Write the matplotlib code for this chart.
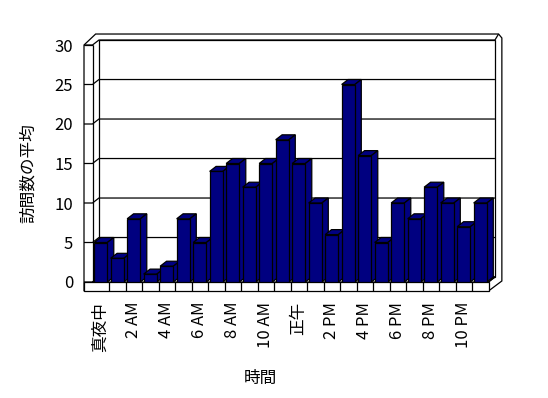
import matplotlib
matplotlib.use('Agg')
import matplotlib.pyplot as plt
from matplotlib.patches import Polygon

# Average visits per hour of the day
hours = list(range(24))
visits = [5, 3, 8, 1, 2, 8, 5, 14, 15, 12, 15, 18,
          15, 10, 6, 25, 16, 5, 10, 8, 12, 10, 7, 10]
tick_pos = list(range(0, 24, 2))
tick_labels = ['真夜中', '2 AM', '4 AM', '6 AM', '8 AM', '10 AM',
               '正午', '2 PM', '4 PM', '6 PM', '8 PM', '10 PM']
y_ticks = [0, 5, 10, 15, 20, 25, 30]

plt.rcParams['font.family'] = ['Noto Sans CJK JP', 'DejaVu Sans']
plt.rcParams['font.size'] = 12

NAVY = '#000080'
LW = 0.9

fig = plt.figure(figsize=(5.48, 3.98), dpi=100)
ax = fig.add_axes([92.5 / 548, 116 / 398, 396 / 548, 237 / 398])
X0, X1 = -0.5, 23.5
Y0, Y1 = 0, 30
ax.set_xlim(X0, X1)
ax.set_ylim(Y0, Y1)
ax.set_frame_on(False)

# fake 3d depth, in data units
DX, DY = 0.39, 0.63     # depth of bars / back wall
TW = 0.515              # left wall thickness
TF = 1.14               # floor thickness
TBX, TBY = 0.42, 0.76   # back wall thickness


def poly(pts, fc='white', z=1, closed=True):
    p = Polygon(pts, closed=closed, facecolor=fc, edgecolor='black',
                linewidth=LW, zorder=z, clip_on=False)
    ax.add_patch(p)


def line(xs, ys, z=2):
    ax.plot(xs, ys, color='black', linewidth=LW, zorder=z, clip_on=False,
            solid_capstyle='butt')


# outer silhouette of the box
top = Y1 + DY + TBY
right = X1 + DX + TBX
poly([(X0 - TW, -TF), (X0 - TW, Y1), (X0 + DX - 0.2, top),
      (right - 0.2, top), (right, top - 0.5), (right, 0.13), (X1, -TF)], z=0)

# back wall face
poly([(X0 + DX, DY), (X0 + DX, Y1 + DY), (X1 + DX, Y1 + DY), (X1 + DX, DY)], z=1)
line([X1 + DX, right - 0.2], [Y1 + DY, top])

# left wall
line([X0, X0], [0, Y1])
line([X0 - TW, X0], [Y1, Y1])

# gridlines: front of left wall, across wall, along back wall
for v in y_ticks:
    line([X0 - TW, X0, X0 + DX, X1 + DX], [v, v, v + DY, v + DY])

# floor
poly([(X0 - TW, -TF), (X0 - TW, 0), (X1, 0), (X1, -TF)], z=1)
poly([(X0, 0), (X1, 0), (X1 + DX, DY), (X0 + DX, DY)], z=1)
for k in range(1, 24):
    line([X0 + k, X0 + k], [-TF, 0])
line([X1, X1 + DX], [0, DY])

# bars: front via ax.bar, then top and side faces
bars = ax.bar(hours, visits, width=0.8, color=NAVY, edgecolor='black',
              linewidth=LW)
for i, (b, h) in enumerate(zip(bars, visits)):
    x0 = b.get_x()
    x1 = x0 + b.get_width()
    b.set_zorder(4 + 2 * i)
    poly([(x0, h), (x1, h), (x1 + DX, h + DY), (x0 + DX, h + DY)], NAVY, 3 + 2 * i)
    poly([(x1, 0), (x1, h), (x1 + DX, h + DY), (x1 + DX, DY)], NAVY, 3 + 2 * i)

ax.set_yticks(y_ticks)
ax.set_xticks(tick_pos, tick_labels, rotation=90)
ax.tick_params(axis='y', length=0, pad=14)
ax.tick_params(axis='x', length=0, pad=14.4)

ax.set_ylabel('訪問数の平均')
ax.yaxis.set_label_coords(-0.14, 0.46)
ax.set_xlabel('時間')
ax.xaxis.set_label_coords(0.423, -0.371)

fig.savefig('out.png', dpi=100, facecolor='white')
